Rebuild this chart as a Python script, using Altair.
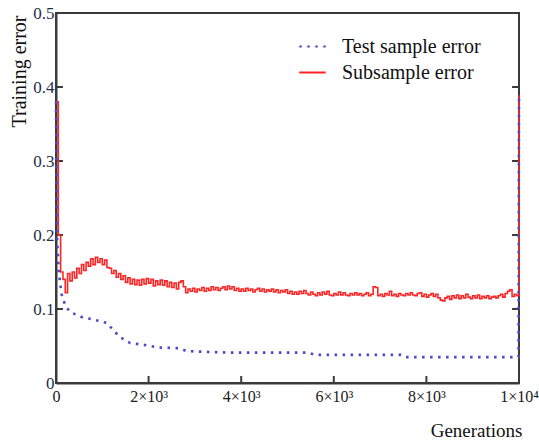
import altair as alt
import pandas as pd

# ---------------- data ----------------
series_names = ["Test sample error", "Subsample error"]

# Subsample error, sampled every 50 generations (0 .. 10000)
sub_gen = list(range(0, 10001, 50))
sub_err = [
    0.38, 0.20, 0.15, 0.14, 0.122, 0.148, 0.138, 0.15, 0.142, 0.155, 0.148, 0.16, 0.152, 0.163, 0.158, 0.168, 0.16, 0.17, 0.163, 0.168,
    0.16, 0.166, 0.156, 0.155, 0.148, 0.152, 0.143, 0.148, 0.14, 0.145, 0.136, 0.142, 0.134, 0.14, 0.133, 0.139, 0.132, 0.14, 0.134, 0.141,
    0.135, 0.14, 0.131, 0.138, 0.133, 0.139, 0.132, 0.138, 0.13, 0.136, 0.129, 0.135, 0.127, 0.136, 0.138, 0.13, 0.122, 0.127, 0.124, 0.128,
    0.123, 0.127, 0.125, 0.129, 0.124, 0.128, 0.125, 0.13, 0.126, 0.129, 0.125, 0.128, 0.13, 0.126, 0.131, 0.127, 0.13, 0.125, 0.128, 0.124,
    0.127, 0.124, 0.128, 0.125, 0.127, 0.123, 0.126, 0.128, 0.124, 0.127, 0.123, 0.126, 0.124, 0.127, 0.123, 0.126, 0.122, 0.125, 0.123, 0.126,
    0.121, 0.124, 0.12, 0.123, 0.12, 0.124, 0.121, 0.125, 0.121, 0.119, 0.123, 0.12, 0.118, 0.122, 0.119, 0.123, 0.12, 0.124, 0.119, 0.118,
    0.121, 0.119, 0.123, 0.119, 0.122, 0.119, 0.118, 0.121, 0.119, 0.122, 0.119, 0.121, 0.118, 0.12, 0.122, 0.118, 0.12, 0.13, 0.129, 0.118,
    0.12, 0.117, 0.121, 0.119, 0.124, 0.118, 0.12, 0.117, 0.121, 0.119, 0.118, 0.121, 0.119, 0.122, 0.119, 0.118, 0.121, 0.122, 0.117, 0.12,
    0.116, 0.119, 0.121, 0.117, 0.12, 0.115, 0.112, 0.111, 0.115, 0.117, 0.113, 0.118, 0.115, 0.119, 0.114, 0.118, 0.115, 0.12, 0.116, 0.114,
    0.118, 0.115, 0.119, 0.114, 0.117, 0.115, 0.118, 0.114, 0.116, 0.117, 0.115, 0.118, 0.12, 0.116, 0.121, 0.124, 0.126, 0.117, 0.12, 0.118,
    0.389,
]

# Test sample error (smooth, dotted)
test_gen = [0, 20, 60, 120, 200, 300, 560, 800, 1100, 1200, 1380, 1600, 1960, 2200, 2670, 2820,
            3800, 5450, 5600, 7450, 7550, 9990, 10000]
test_err = [0.38, 0.20, 0.15, 0.12, 0.105, 0.096, 0.089, 0.086, 0.081, 0.074, 0.062, 0.054, 0.051, 0.048, 0.047, 0.043,
            0.041, 0.041, 0.038, 0.038, 0.035, 0.035, 0.389]

x_tick_values = [0, 2000, 4000, 6000, 8000, 10000]
x_tick_labels = ["0", "2×10³", "4×10³", "6×10³", "8×10³", "1×10⁴"]
y_tick_values = [0, 0.1, 0.2, 0.3, 0.4, 0.5]
inner_y_ticks = [0.1, 0.2, 0.3, 0.4]
inner_x_ticks = [2000, 4000, 6000, 8000]

n = min(len(sub_gen), len(sub_err))
sub_df = pd.DataFrame({"gen": sub_gen[:n], "err": sub_err[:n], "series": series_names[1]})
test_df = pd.DataFrame({"gen": test_gen, "err": test_err, "series": series_names[0]})

TX = 150      # inner tick length in generations
TY = 0.0095   # inner tick length in error units
left_ticks = pd.DataFrame({"gen": [0] * 4, "gen2": [TX] * 4, "err": inner_y_ticks})
right_ticks = pd.DataFrame({"gen": [10000 - TX] * 4, "gen2": [10000] * 4, "err": inner_y_ticks})
bottom_ticks = pd.DataFrame({"gen": inner_x_ticks, "err": [0] * 4, "err2": [TY] * 4})

# ---------------- encodings ----------------
FONT = "Liberation Serif"
AX = "#3a3a3a"

label_expr = ""
for v, t in zip(x_tick_values, x_tick_labels):
    label_expr += f"datum.value == {v} ? '{t}' : "
label_expr += "''"

xs = alt.Scale(domain=[0, 10000], nice=False, zero=False)
ys = alt.Scale(domain=[0, 0.5], nice=False)

x_axis = alt.Axis(
    values=x_tick_values, labelExpr=label_expr, ticks=False, tickSize=0, grid=False,
    labelPadding=5, labelFont=FONT, labelFontSize=16, labelColor="#1a1a1a",
    labelBaseline="top", labelFlush=False,
    domainColor=AX, domainWidth=2,
    title="Generations", titleFont=FONT, titleFontSize=19, titleFontWeight="normal",
    titleColor="#111111", titleAlign="right", titleBaseline="middle",
    titleX=466, titleY=47,
)
y_axis = alt.Axis(
    values=y_tick_values, format=".1~f", ticks=False, tickSize=0, grid=False,
    labelPadding=2, labelFont=FONT, labelFontSize=17, labelColor="#243048",
    labelFlush=False,
    domainColor=AX, domainWidth=2,
    title="Training error", titleFont=FONT, titleFontSize=20, titleFontWeight="normal",
    titleColor="#111111", titleAngle=-90, titleAlign="right", titleBaseline="middle",
    titleX=-37, titleY=2,
)

x_enc = alt.X("gen:Q", scale=xs, axis=x_axis)
y_enc = alt.Y("err:Q", scale=ys, axis=y_axis)

color_enc = alt.Color(
    "series:N",
    scale=alt.Scale(domain=series_names, range=["#4848c8", "#ff2424"]),
    legend=alt.Legend(
        title=None, orient="none", legendX=242, legendY=19,
        symbolType="stroke", symbolSize=700, symbolStrokeWidth=2,
        labelFont=FONT, labelFontSize=20, labelColor="#111111",
        labelOffset=15, rowPadding=1, padding=0,
    ),
)
dash_enc = alt.StrokeDash(
    "series:N",
    scale=alt.Scale(domain=series_names, range=[[2.5, 5.5], [1, 0]]),
    legend=None,
)

red = alt.Chart(sub_df).mark_line(strokeWidth=1.6, interpolate="step-after", clip=False).encode(
    x=x_enc, y=y_enc, color=color_enc, strokeDash=dash_enc
)
blue = alt.Chart(test_df).mark_line(strokeWidth=2.6, clip=False).encode(
    x=x_enc, y=y_enc, color=color_enc, strokeDash=dash_enc
)

tick_l = alt.Chart(left_ticks).mark_rule(color=AX, strokeWidth=2).encode(
    x=x_enc, x2="gen2:Q", y=y_enc
)
tick_r = alt.Chart(right_ticks).mark_rule(color=AX, strokeWidth=2).encode(
    x=x_enc, x2="gen2:Q", y=y_enc
)
tick_b = alt.Chart(bottom_ticks).mark_rule(color=AX, strokeWidth=2).encode(
    x=x_enc, y=y_enc, y2="err2:Q"
)

chart = (
    alt.layer(tick_l, tick_r, tick_b, red, blue)
    .properties(
        width=463, height=370,
        autosize=alt.AutoSizeParams(type="none"),
        padding={"left": 56, "top": 13, "right": 20, "bottom": 57},
        background="white",
    )
    .configure_view(stroke=AX, strokeWidth=2)
)

chart.save("out.html", embed_options={"renderer": "svg", "actions": False})
